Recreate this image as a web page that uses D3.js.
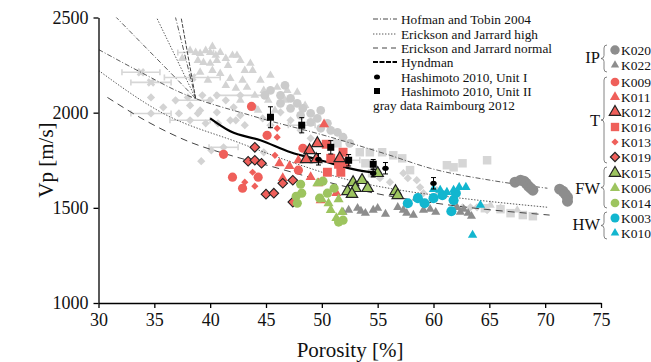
<!DOCTYPE html>
<html><head><meta charset="utf-8">
<script src="https://cdn.jsdelivr.net/npm/d3@7"></script>
<style>
body{margin:0;background:#fff}
svg{display:block}
text{font-family:"Liberation Serif","Times New Roman",serif;fill:#111}
</style>
</head><body>
<svg id="c" width="651" height="362"></svg>
<script>
// ---------- tick labels ----------
const xTicks = [30,35,40,45,50,55,60,65,70,75];
const yTicks = [1000,1500,2000,2500];

// ---------- model curves [porosity %, Vp m/s] ----------
const hofmanTobin = [[30,2332],[33.8,2212],[37.3,2107],[43.6,1986],[50.8,1871],[56.1,1776],[59.7,1708],[65.1,1645],[70.2,1603]];
const ericksonHigh = [[30,2222],[35.8,1996],[42.5,1844],[48.1,1724],[52.5,1645],[57.0,1593],[62.4,1551],[70.2,1503]];
const ericksonNormal = [[30.8,2080],[34.5,1949],[38.0,1850],[42.1,1771],[45.4,1719],[49.9,1645],[54.3,1582],[61.5,1514],[70.4,1462]];
const hyndman = [[40.0,1970],[41.8,1902],[44.5,1855],[47.2,1792],[49.9,1750],[53.2,1698],[55.2,1682]];
const steepA = [[38.7,2075],[31.6,2500]];
const steepB = [[38.7,2075],[35.2,2500]];
const steepC = [[38.7,2075],[36.9,2500]];
const steepD = [[38.7,2075],[37.4,2500]];

// ---------- Hashimoto 2010 [por, Vp, VpErr] ----------
const hashUnitI = [[49.7,1755,30],[55.7,1708,30],[60.0,1629,30],[54.6,1682,20]];
const hashUnitII = [[45.4,1976,55],[48.2,1934,40],[50.8,1818,35],[52.4,1750,30],[54.6,1729,25]];

// ---------- gray data Raimbourg 2012 ----------
const grayTri = [[38.2,2327],[38.7,2316],[39.1,2311],[39.6,2327],[40.0,2316],[40.5,2301],[40.9,2316],[38.9,2274],[39.4,2264],[40.0,2259],[40.6,2274],[41.4,2285],[42.0,2301],[42.4,2301],[42.7,2274],[41.6,2248],[40.9,2206],[41.8,2180],[40.2,2222],[43.6,2259],[43.8,2222],[42.9,2170],[43.3,2133],[44.5,2170],[44.8,2117],[46.0,2133],[46.9,2117],[47.8,2107],[42.3,2128],[44.0,2091],[45.4,2196],[45.2,2065],[41.4,2143],[39.8,2170],[39.1,2212],[43.1,2222],[45.8,2012],[46.7,2065],[48.5,2038],[42.7,2065],[37.5,2285],[44.3,2012],[40.2,2348],[65.1,1514],[67.5,1488],[66.0,1498]];
const grayDia = [[38.0,2080],[39.3,2091],[40.6,2091],[42.1,2028],[40.6,2002],[44.0,2028],[46.3,2002],[34.7,2080],[35.8,2028],[36.9,2065],[38.2,2038],[39.1,2012],[40.0,2065],[41.4,2065],[42.7,1986],[44.7,1970],[45.4,1934],[47.2,1960],[48.1,1907],[49.0,1865],[43.1,1934],[41.8,1960],[42.7,2091],[37.2,1996],[38.9,1996],[39.6,1944],[40.7,1944],[42.3,1960],[39.2,1745],[40.1,1802],[44.8,1792],[34.7,1996],[38.2,1960],[41.2,1818],[57.3,1682],[57.7,1656],[58.5,1645],[58.8,1608],[60.3,1593],[59.1,1577],[63.3,1503],[63.9,1503],[64.8,1488],[62.6,1503],[55.2,1656],[56.1,1635]];
const grayCirc = [[45.4,2117],[46.3,2091],[47.2,2075],[47.8,2049],[48.3,2023],[46.3,2049],[49.0,1996],[49.6,1970],[50.5,1944],[51.4,1897],[51.9,1871],[52.5,1839],[47.2,2023],[48.1,1986],[49.0,1949],[49.9,1918],[44.9,2091],[49.9,2012],[46.7,2143],[50.8,1907]];
const graySq = [[51.4,1839],[53.4,1792],[54.3,1792],[55.4,1792],[56.4,1776],[57.2,1760],[61.2,1724],[61.8,1713],[62.6,1734],[64.8,1750],[53.9,1734],[54.5,1682],[57.9,1698],[66.0,1493],[66.9,1472],[68.0,1462],[68.9,1456],[64.6,1498]];
const grayCross = [[33.8,2212],[34.7,2159],[38.4,2185]];
// horizontal error bars [por, Vp, half-width %]
const grayErr = [[33.8,2212,1.7],[34.7,2159,1.8],[38.4,2185,2.5],[38.7,2316,1.6],[34.7,1996,1.8],[38.2,1960,1.8],[41.2,1818,1.3],[38.4,2065,1.5],[42.7,2091,2.2],[48.2,1934,1.2],[52.4,1750,1.0]];

// ---------- IODP / site data ----------
const k020 = [[67.3,1635],[67.8,1645],[68.1,1640],[68.3,1629],[68.5,1614],[68.7,1603],[68.9,1593],[71.3,1598],[71.6,1587],[71.8,1572],[72.0,1556],[72.0,1535]];
const k022 = [[51.9,1477],[52.4,1488],[53.2,1498],[53.5,1483],[54.6,1488],[55.0,1498],[56.8,1503],[57.3,1488],[57.6,1472],[58.2,1462],[59.1,1488],[59.7,1493],[60.2,1477],[62.1,1503],[62.4,1477],[62.7,1493],[63.1,1472],[63.4,1456],[53.9,1472],[55.7,1467]];
const k009 = [[43.7,2033],[45.1,1881],[41.2,1781],[42.0,1661],[42.9,1603],[44.3,1661],[48.3,1813],[47.9,1698]];
const k011 = [[50.2,1939],[46.2,1734],[47.1,1719],[47.9,1750],[49.0,1661],[46.5,1656],[49.7,1629],[49.9,1540],[51.3,1577]];
const k012 = [[49.6,1839],[48.9,1802],[48.6,1755],[49.5,1755],[51.6,1760]];
const k016 = [[50.4,1834],[51.9,1792],[50.8,1760],[51.5,1729],[50.5,1687],[51.7,1687],[52.1,1739]];
const k013 = [[46.0,1918],[46.0,1871],[45.8,1776],[43.8,1687],[43.1,1635],[44.0,1614]];
const k019 = [[44.0,1818],[43.4,1745],[44.0,1750],[44.6,1734],[46.5,1629],[47.4,1645],[45.0,1572],[45.7,1577],[47.4,1530]];
const k015 = [[52.8,1634],[53.6,1645],[53.0,1603],[54.1,1603],[52.3,1587],[52.7,1572],[55.0,1682],[56.6,1587],[56.8,1566]];
const k006 = [[49.6,1629],[50.0,1545],[51.5,1545],[50.8,1488],[51.3,1446],[51.8,1477],[50.6,1524]];
const k014 = [[48.1,1624],[48.2,1577],[47.7,1561],[50.1,1640],[50.5,1577],[51.1,1603],[49.8,1551],[51.9,1435],[51.5,1425],[47.8,1524]];
const k003 = [[57.7,1524],[58.6,1551],[59.2,1524],[60.0,1551],[60.8,1566],[61.8,1540],[61.6,1482],[62.0,1577]];
const k010 = [[60.0,1598],[60.6,1593],[61.2,1582],[61.8,1593],[62.3,1608],[62.9,1608],[64.2,1514],[63.5,1357]];

// ---------- legend texts ----------
const lineLegend = ["Hofman and Tobin 2004","Erickson and Jarrard high","Erickson and Jarrard normal","Hyndman","Hashimoto 2010, Unit I","Hashimoto 2010, Unit II","gray data Raimbourg 2012"];
const groupNames = ["IP","T","FW","HW"];

// ================= drawing =================
const RED="#ef5f5a", GREEN="#9dc45f", CYAN="#12b6cf", IPG="#8d8d8d", LG="#d3d3d3";
const svg = d3.select("#c");
const x = d3.scaleLinear().domain([30,75]).range([98.5,601]);
const y = d3.scaleLinear().domain([1000,2500]).range([303,17.5]);

svg.append("clipPath").attr("id","pc").append("rect").attr("x",99).attr("y",14).attr("width",502).attr("height",289);
const plot = svg.append("g").attr("clip-path","url(#pc)");

const sym = (type,size)=>d3.symbol().type(type).size(size)();

// gray error bars
const ge = plot.append("g").attr("stroke","#d6d6d6").attr("stroke-width",1.6).attr("fill","none");
grayErr.forEach(d=>{
  const x0=x(d[0]-d[2]), x1=x(d[0]+d[2]), yy=y(d[1]);
  ge.append("line").attr("x1",x0).attr("x2",x1).attr("y1",yy).attr("y2",yy);
  ge.append("line").attr("x1",x0).attr("x2",x0).attr("y1",yy-3).attr("y2",yy+3);
  ge.append("line").attr("x1",x1).attr("x2",x1).attr("y1",yy-3).attr("y2",yy+3);
});

function drawSeries(g,data,type,size,fill,stroke,sw,rot){
  g.append("g").selectAll("path").data(data).join("path")
    .attr("d",sym(type,size))
    .attr("transform",d=>`translate(${x(d[0])},${y(d[1])})${rot?` rotate(${rot})`:""}`)
    .attr("fill",fill).attr("stroke",stroke||"none").attr("stroke-width",sw||0);
}
drawSeries(plot,grayDia,d3.symbolSquare,34,LG,null,0,45);
drawSeries(plot,grayTri,d3.symbolTriangle,32,LG);
drawSeries(plot,grayCirc,d3.symbolCircle,60,"#cbcbcb");
drawSeries(plot,graySq,d3.symbolSquare,72,"#d6d6d6");
drawSeries(plot,grayCross,d3.symbolCross,45,LG,null,0,45);

// curves
const ln = d3.line().x(d=>x(d[0])).y(d=>y(d[1])).curve(d3.curveMonotoneX);
const lnS = d3.line().x(d=>x(d[0])).y(d=>y(d[1]));
const styles = {
  hof:{dash:"5,2,1,2",w:0.8,c:"#333"},
  high:{dash:"1.4,1.6",w:0.9,c:"#444"},
  norm:{dash:"7,5",w:1,c:"#444"},
  hyn:{dash:"5,1.5",w:2.2,c:"#000"}
};
function curve(data,st,gen){
  plot.append("path").attr("d",(gen||ln)(data)).attr("fill","none")
    .attr("stroke",st.c).attr("stroke-width",st.w).attr("stroke-dasharray",st.dash);
}
curve(hofmanTobin,styles.hof);
curve(ericksonHigh,styles.high);
curve(ericksonNormal,styles.norm);
curve(steepA,styles.hof,lnS);
curve(steepB,styles.high,lnS);
curve(steepC,styles.hof,lnS);
curve(steepD,{dash:"4,1.5",w:0.9,c:"#333"},lnS);
plot.append("path").attr("d",ln(hyndman)).attr("fill","none").attr("stroke","#000").attr("stroke-width",2.2);

// colored series
drawSeries(plot,k022,d3.symbolTriangle,36,IPG);
drawSeries(plot,k020,d3.symbolCircle,95,IPG);
drawSeries(plot,k013,d3.symbolSquare,26,RED,null,0,45);
drawSeries(plot,k009,d3.symbolCircle,66,RED);
drawSeries(plot,k011,d3.symbolTriangle,44,RED);
drawSeries(plot,k016,d3.symbolSquare,80,RED);
drawSeries(plot,k019,d3.symbolSquare,46,RED,"#222",1.1,45);
drawSeries(plot,k012,d3.symbolTriangle,56,RED,"#222",1.2);
drawSeries(plot,k006,d3.symbolTriangle,44,GREEN);
drawSeries(plot,k014,d3.symbolCircle,66,GREEN);
drawSeries(plot,k015,d3.symbolTriangle,56,GREEN,"#222",1.2);
drawSeries(plot,k003,d3.symbolCircle,80,CYAN);
drawSeries(plot,k010,d3.symbolTriangle,38,CYAN);

// Hashimoto
const hg = plot.append("g");
[...hashUnitI,...hashUnitII].forEach(d=>{
  const xx=x(d[0]), y0=y(d[1]-d[2]), y1=y(d[1]+d[2]);
  hg.append("line").attr("x1",xx).attr("x2",xx).attr("y1",y0).attr("y2",y1).attr("stroke","#000").attr("stroke-width",1);
  hg.append("line").attr("x1",xx-2.5).attr("x2",xx+2.5).attr("y1",y0).attr("y2",y0).attr("stroke","#000").attr("stroke-width",1);
  hg.append("line").attr("x1",xx-2.5).attr("x2",xx+2.5).attr("y1",y1).attr("y2",y1).attr("stroke","#000").attr("stroke-width",1);
});
hg.selectAll("ellipse").data(hashUnitI).join("ellipse").attr("cx",d=>x(d[0])).attr("cy",d=>y(d[1])).attr("rx",3.2).attr("ry",2.6).attr("fill","#000");
hg.selectAll("rect").data(hashUnitII).join("rect").attr("x",d=>x(d[0])-3.5).attr("y",d=>y(d[1])-3.5).attr("width",7).attr("height",7).attr("fill","#000");

// axes
const ax = svg.append("g").attr("transform","translate(0,303)")
  .call(d3.axisBottom(x).tickValues(xTicks).tickFormat(d3.format("d")).tickSize(5).tickSizeOuter(0).tickPadding(5));
const ay = svg.append("g").attr("transform","translate(98.5,0)")
  .call(d3.axisLeft(y).tickValues(yTicks).tickFormat(d3.format("d")).tickSize(5).tickSizeOuter(0).tickPadding(5));
[ax,ay].forEach(a=>{
  a.attr("font-family",null);
  a.select(".domain").attr("stroke","#000").attr("stroke-width",1.3);
  a.selectAll(".tick line").attr("stroke","#000").attr("stroke-width",1.3);
  a.selectAll("text").attr("font-size",18).attr("fill","#111");
});
svg.append("text").attr("x",350).attr("y",357).attr("text-anchor","middle").attr("font-size",21).text("Porosity [%]");
svg.append("text").attr("transform","translate(46,160) rotate(-90)").attr("text-anchor","middle").attr("dy","0.35em").attr("font-size",21).text("Vp [m/s]");

// top legend
const lg = svg.append("g");
const rowY = [19,34,48,62,77,91,105];
const legStyles=[styles.hof,styles.high,styles.norm,styles.hyn];
lineLegend.forEach((t,i)=>{
  const yy=rowY[i];
  if(i<4){
    const st=legStyles[i];
    lg.append("line").attr("x1",373).attr("x2",397).attr("y1",yy).attr("y2",yy)
      .attr("stroke",st.c).attr("stroke-width",i===3?2.2:(i===2?1:0.9)).attr("stroke-dasharray",i===2?"5,4":st.dash);
  } else if(i===4){
    lg.append("ellipse").attr("cx",377).attr("cy",yy).attr("rx",3).attr("ry",2.5).attr("fill","#000");
  } else if(i===5){
    lg.append("rect").attr("x",374).attr("y",yy-3).attr("width",6).attr("height",6).attr("fill","#000");
  }
  lg.append("text").attr("x",i===6?373:401).attr("y",yy).attr("dy","0.35em").attr("font-size",13.3).text(t);
});

// right legend
const rl = svg.append("g");
const entries = [
  {n:"K020",t:d3.symbolCircle,s:70,f:IPG,y:50},
  {n:"K022",t:d3.symbolTriangle,s:30,f:IPG,y:65},
  {n:"K009",t:d3.symbolCircle,s:60,f:RED,y:82},
  {n:"K011",t:d3.symbolTriangle,s:44,f:RED,y:97},
  {n:"K012",t:d3.symbolTriangle,s:56,f:RED,y:112,st:"#222"},
  {n:"K016",t:d3.symbolSquare,s:70,f:RED,y:127},
  {n:"K013",t:d3.symbolSquare,s:26,f:RED,y:142,r:45},
  {n:"K019",t:d3.symbolSquare,s:42,f:RED,y:157,st:"#222",r:45},
  {n:"K015",t:d3.symbolTriangle,s:56,f:GREEN,y:173,st:"#222"},
  {n:"K006",t:d3.symbolTriangle,s:44,f:GREEN,y:188},
  {n:"K014",t:d3.symbolCircle,s:60,f:GREEN,y:203},
  {n:"K003",t:d3.symbolCircle,s:64,f:CYAN,y:218},
  {n:"K010",t:d3.symbolTriangle,s:32,f:CYAN,y:233}
];
entries.forEach(e=>{
  rl.append("path").attr("d",sym(e.t,e.s))
    .attr("transform",`translate(615,${e.y})${e.r?` rotate(${e.r})`:""}`)
    .attr("fill",e.f).attr("stroke",e.st||"none").attr("stroke-width",e.st?1.2:0);
  rl.append("text").attr("x",621).attr("y",e.y).attr("dy","0.35em").attr("font-size",13.5).text(e.n);
});
const groups = [
  {n:groupNames[0],y1:45,y2:72,ly:57},
  {n:groupNames[1],y1:77,y2:163,ly:120},
  {n:groupNames[2],y1:167,y2:208,ly:188},
  {n:groupNames[3],y1:212,y2:239,ly:224}
];
groups.forEach(g=>{
  const bx=604, m=(g.y1+g.y2)/2;
  const p=`M${bx+3},${g.y1} Q${bx},${g.y1} ${bx},${g.y1+3} L${bx},${m-3} Q${bx},${m} ${bx-3},${m} Q${bx},${m} ${bx},${m+3} L${bx},${g.y2-3} Q${bx},${g.y2} ${bx+3},${g.y2}`;
  rl.append("path").attr("d",p).attr("fill","none").attr("stroke","#666").attr("stroke-width",0.8);
  rl.append("text").attr("x",600).attr("y",g.ly).attr("dy","0.35em").attr("text-anchor","end").attr("font-size",16.5).text(g.n);
});
</script>
</body></html>
